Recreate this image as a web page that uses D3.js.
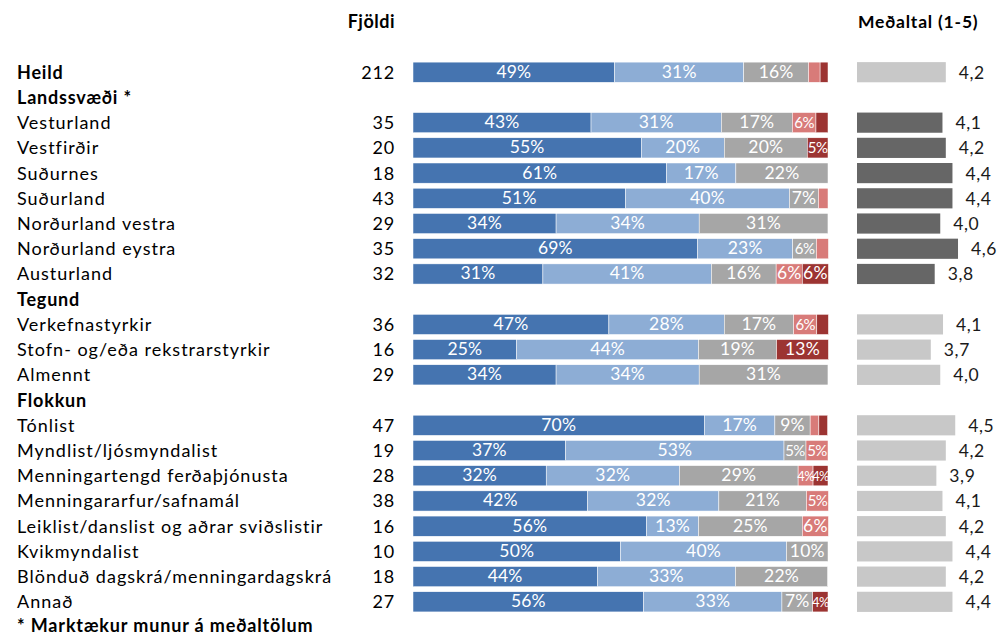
<!DOCTYPE html>
<html><head><meta charset="utf-8">
<script src="https://cdn.jsdelivr.net/npm/d3@7"></script>
<style>body{margin:0;background:#fff}svg{display:block}</style>
</head><body>
<svg id="c" width="1000" height="635"></svg>
<script>
const categories = ["Heild","Vesturland","Vestfirðir","Suðurnes","Suðurland","Norðurland vestra","Norðurland eystra","Austurland","Verkefnastyrkir","Stofn- og/eða rekstrarstyrkir","Almennt","Tónlist","Myndlist/ljósmyndalist","Menningartengd ferðaþjónusta","Menningararfur/safnamál","Leiklist/danslist og aðrar sviðslistir","Kvikmyndalist","Blönduð dagskrá/menningardagskrá","Annað"];
const groupHeaders = [["Landssvæði *","Vesturland"],["Tegund","Verkefnastyrkir"],["Flokkun","Tónlist"]];
const counts = [212,35,20,18,43,29,35,32,36,16,29,47,19,28,38,16,10,18,27];
const s1 = [48.6,42.9,55.0,61.1,51.2,34.48,68.6,31.3,47.2,25.0,34.48,70.2,36.8,32.1,42.1,56.3,50.0,44.4,55.6];
const s2 = [31.1,31.4,20.0,16.7,39.5,34.48,22.9,40.6,27.8,43.8,34.48,17.0,52.6,32.1,31.6,12.5,40.0,33.3,33.3];
const s3 = [15.6,17.1,20.0,22.2,7.0,31.03,5.7,15.6,16.7,18.8,31.03,8.5,5.3,28.6,21.1,25.0,10.0,22.2,7.4];
const s4 = [2.8,5.7,0,0,2.3,0,2.9,6.3,5.6,0,0,2.1,5.3,3.6,5.3,6.3,0,0,0];
const s5 = [1.9,2.9,5.0,0,0,0,0,6.3,2.8,12.5,0,2.1,0,3.6,0,0,0,0,3.7];
const means = [4.2,4.08,4.2,4.44,4.44,4.0,4.64,3.8,4.1,3.66,4.0,4.54,4.2,3.86,4.08,4.2,4.44,4.2,4.44];
const regionRows = ["Vesturland","Vestfirðir","Suðurnes","Suðurland","Norðurland vestra","Norðurland eystra","Austurland"];

const segColors = ["#4574B0","#8DADD5","#A6A6A6","#D87B79","#9C3432"];
const font = "Lato, 'Noto Sans', sans-serif";

const rows = [];
categories.forEach((c,i)=>{
  groupHeaders.forEach(g=>{ if(g[1]===c) rows.push({id:"h_"+g[0], label:g[0], header:true}); });
  rows.push({id:c, label:c, header:false, bold:c==="Heild", i});
});

const svg = d3.select("#c");
const y = d3.scaleBand().domain(rows.map(r=>r.id)).range([59.6, 59.6 + rows.length*25.22]).paddingInner(0.2).paddingOuter(0.1);
const x = d3.scaleLinear().domain([0,100]).range([413,828]);
const xm = d3.scaleLinear().domain([1,5]).range([857,968]);

const data = categories.map((c,i)=>({cat:c, v0:s1[i], v1:s2[i], v2:s3[i], v3:s4[i], v4:s5[i]}));
const stack = d3.stack().keys(["v0","v1","v2","v3","v4"])(data);

svg.append("text").attr("x",395).attr("y",28).attr("text-anchor","end")
  .attr("font-family",font).attr("font-weight","bold").attr("font-size",18).attr("letter-spacing",0.5).attr("fill","#000").text("Fjöldi");
svg.append("text").attr("x",858).attr("y",28)
  .attr("font-family",font).attr("font-weight","bold").attr("font-size",17.5).attr("letter-spacing",0.8).attr("fill","#000").text("Meðaltal (1-5)");

const lab = svg.append("g");
rows.forEach(r=>{
  const cy = y(r.id) + y.bandwidth()/2;
  const isBold = r.header||r.bold;
  lab.append("text").attr("x",17).attr("y",cy+6.5)
    .attr("font-family",font).attr("font-size",18).attr("letter-spacing",isBold?0.8:1.0)
    .attr("font-weight",isBold?"bold":"normal").attr("fill","#000").text(r.label);
  if(!r.header){
    lab.append("text").attr("x",395).attr("y",cy+6.5).attr("text-anchor","end")
      .attr("font-family",font).attr("font-size",18).attr("letter-spacing",0.8).attr("fill","#000").text(counts[r.i]);
  }
});
const lastY = y(rows[rows.length-1].id) + y.bandwidth()/2 + 25.22;
svg.append("text").attr("x",17).attr("y",lastY+4.5).attr("font-family",font).attr("font-size",18)
  .attr("letter-spacing",0.85).attr("font-weight","bold").attr("fill","#000").text("* Marktækur munur á meðaltölum");

const g = svg.append("g");
stack.forEach((layer,k)=>{
  layer.forEach((d,i)=>{
    const c = categories[i];
    const w = x(d[1]) - x(d[0]);
    if(w<=0) return;
    g.append("rect").attr("x",x(d[0])).attr("y",y(c)).attr("width",w).attr("height",y.bandwidth())
      .attr("fill",segColors[k]).attr("stroke","#fff").attr("stroke-width",0.5);
  });
});
stack.forEach((layer,k)=>{
  layer.forEach((d,i)=>{
    const c = categories[i];
    const v = d[1]-d[0];
    if(v<3.5) return;
    const fs = v < 4.5 ? 13 : (v < 6 ? 15 : 17.5);
    g.append("text").attr("x",(x(d[0])+x(d[1]))/2).attr("y",y(c)+y.bandwidth()/2+5.5)
      .attr("text-anchor","middle").attr("font-family",font).attr("font-size",fs)
      .attr("letter-spacing",v<6?-0.6:0.2).attr("fill","#fff")
      .text(Math.round(v)+"%");
  });
});

const mg = svg.append("g");
categories.forEach((c,i)=>{
  mg.append("rect").attr("x",xm(1)).attr("y",y(c)).attr("width",xm(means[i])-xm(1)).attr("height",y.bandwidth())
    .attr("fill", regionRows.includes(c) ? "#666666" : "#C8C8C8");
  mg.append("text").attr("x",xm(means[i])+13).attr("y",y(c)+y.bandwidth()/2+6.5)
    .attr("font-family",font).attr("font-size",17.5).attr("letter-spacing",0.6).attr("fill","#1a1a1a")
    .text(d3.format(".1f")(means[i]).replace(".",","));
});
</script>
</body></html>
